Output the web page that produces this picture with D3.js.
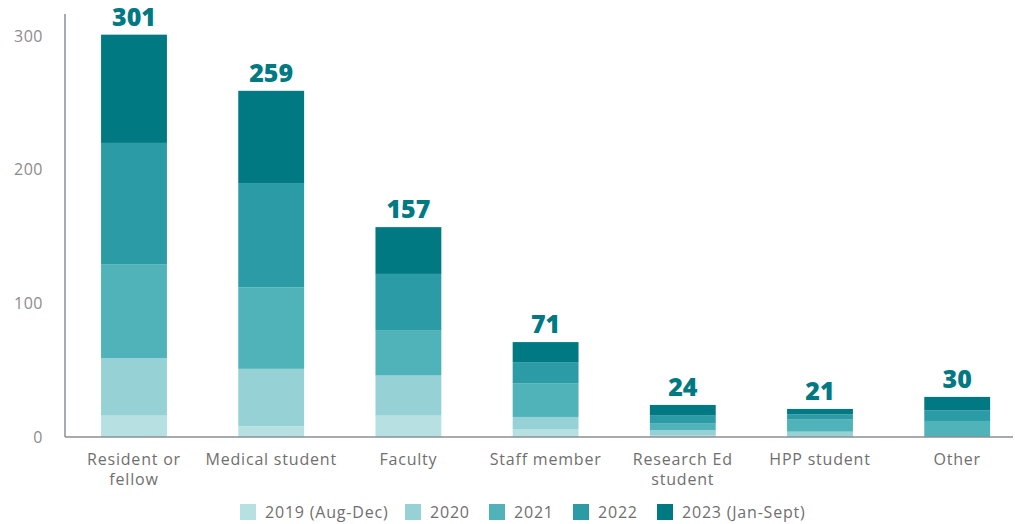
<!DOCTYPE html>
<html>
<head>
<meta charset="utf-8">
<script src="https://cdn.jsdelivr.net/npm/d3@7"></script>
<style>
  body { margin: 0; background: #fff; }
  text { font-family: "Open Sans", sans-serif; }
</style>
</head>
<body>
<div id="chart"></div>
<script>
// categories and stacked series
var categories = ["Resident or fellow", "Medical student", "Faculty", "Staff member",
                  "Research Ed student", "HPP student", "Other"];
var tickLines = [["Resident or", "fellow"], ["Medical student"], ["Faculty"], ["Staff member"],
                 ["Research Ed", "student"], ["HPP student"], ["Other"]];
var seriesNames = ["2019 (Aug-Dec)", "2020", "2021", "2022", "2023 (Jan-Sept)"];
var y2019 = [16, 8, 16, 6, 1, 0, 0];
var y2020 = [43, 43, 30, 9, 4, 4, 0];
var y2021 = [70, 61, 34, 25, 5, 9, 12];
var y2022 = [91, 78, 42, 16, 6, 4, 8];
var y2023 = [81, 69, 35, 15, 8, 4, 10];
var yTicks = [0, 100, 200, 300];

var colors = ["#b6e0e2", "#96d1d6", "#4fb3b9", "#2b9ba5", "#007983"];

var width = 1015, height = 524;

var svg = d3.select("#chart").append("svg")
    .attr("width", width)
    .attr("height", height);

// build rows for the stack
var rows = categories.map(function(c, i) {
    return {cat: c, s0: y2019[i], s1: y2020[i], s2: y2021[i], s3: y2022[i], s4: y2023[i]};
});
var keys = ["s0", "s1", "s2", "s3", "s4"];
var stacked = d3.stack().keys(keys)(rows);

var xScale = d3.scaleBand()
    .domain(categories)
    .range([65.4, 1025.8])
    .paddingInner(0.52)
    .paddingOuter(0.26);

var yScale = d3.scaleLinear()
    .domain([0, 300])
    .range([437, 36]);

// y axis
var leftAxis = d3.axisLeft(yScale).tickValues(yTicks).tickSize(0).tickPadding(22);
var gy = svg.append("g").attr("transform", "translate(65,0)").call(leftAxis);
gy.select(".domain").remove();
gy.selectAll("text")
    .attr("fill", "#8c8c8c")
    .style("font-size", "16px")
    .style("letter-spacing", "0.5px");

// bars
svg.selectAll(".layer")
    .data(stacked)
    .enter()
    .append("g")
    .attr("class", "layer")
    .attr("fill", (d, i) => colors[i])
    .selectAll("rect")
    .data(d => d)
    .enter()
    .append("rect")
    .attr("x", d => xScale(d.data.cat))
    .attr("width", xScale.bandwidth())
    .attr("y", d => yScale(d[1]))
    .attr("height", d => yScale(d[0]) - yScale(d[1]));

// axis lines
svg.append("line")
    .attr("x1", 65).attr("x2", 65)
    .attr("y1", 14).attr("y2", 437)
    .attr("stroke", "#8a8f96").attr("stroke-width", 1.5);
svg.append("line")
    .attr("x1", 65).attr("x2", 1013)
    .attr("y1", 437).attr("y2", 437)
    .attr("stroke", "#8a8f96").attr("stroke-width", 1.5);

// x axis labels
var bottomAxis = d3.axisBottom(xScale).tickSize(0).tickFormat("");
var gx = svg.append("g").attr("transform", "translate(0,437)").call(bottomAxis);
gx.select(".domain").remove();
gx.selectAll(".tick").each(function(d, i) {
    var t = d3.select(this).append("text")
        .attr("fill", "#6f6f6f")
        .attr("text-anchor", "middle")
        .style("font-size", "16px")
        .style("letter-spacing", "0.8px");
    tickLines[i].forEach(function(line, j) {
        t.append("tspan").attr("x", 0).attr("y", 28 + j * 20).text(line);
    });
});

// totals on top
svg.selectAll(".total")
    .data(rows)
    .enter()
    .append("text")
    .attr("class", "total")
    .attr("x", d => xScale(d.cat) + xScale.bandwidth() / 2)
    .attr("y", d => yScale(d.s0 + d.s1 + d.s2 + d.s3 + d.s4) - 9)
    .attr("text-anchor", "middle")
    .attr("fill", "#007983")
    .style("font-size", "25px")
    .style("font-weight", "800")
    .text(d => d.s0 + d.s1 + d.s2 + d.s3 + d.s4);

// legend
var legendX = [240, 405, 489, 573, 657];
var legend = svg.selectAll(".legend")
    .data(seriesNames)
    .enter()
    .append("g")
    .attr("class", "legend")
    .attr("transform", (d, i) => `translate(${legendX[i]}, 504)`);
legend.append("rect")
    .attr("width", 16).attr("height", 16)
    .attr("fill", (d, i) => colors[i]);
legend.append("text")
    .attr("x", 25).attr("y", 14)
    .attr("fill", "#6f6f6f")
    .style("font-size", "16px")
    .style("letter-spacing", "0.8px")
    .text(d => d);
</script>
</body>
</html>
